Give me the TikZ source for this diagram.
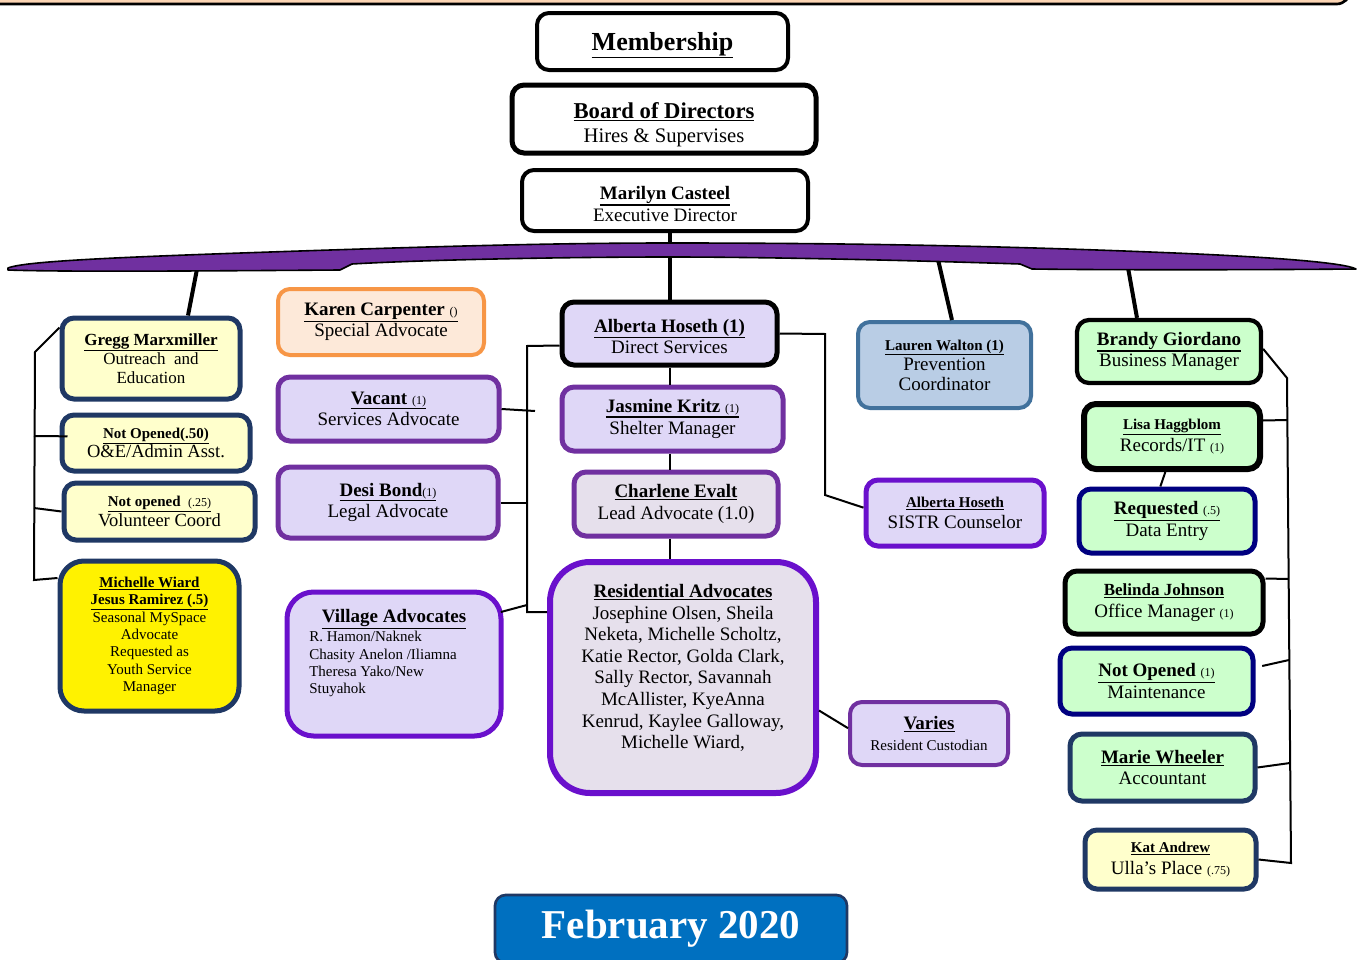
\documentclass[tikz,border=0pt]{standalone}
\usepackage{fontspec}
\setmainfont{Liberation Serif}
\definecolor{lav}{HTML}{DFD7F7}
\definecolor{lavg}{HTML}{E6E0EC}
\definecolor{purp}{HTML}{7030A0}
\definecolor{viol}{HTML}{6A10CC}
\definecolor{navy}{HTML}{1F3864}
\definecolor{navyb}{HTML}{000080}
\definecolor{lyel}{HTML}{FFFFCC}
\definecolor{orng}{HTML}{F79646}
\definecolor{peach}{HTML}{FDE9D9}
\definecolor{banner}{HTML}{FCD5B4}
\definecolor{lblue}{HTML}{B9CDE5}
\definecolor{steel}{HTML}{41719C}
\definecolor{lgrn}{HTML}{CCFFCC}
\definecolor{febblue}{HTML}{0070C0}
\newcommand\fA{\fontsize{14.25pt}{16pt}\selectfont}
\newcommand\fB{\fontsize{11.25pt}{13pt}\selectfont}
\newcommand\fC{\fontsize{9pt}{10pt}\selectfont}
\newcommand\ulx[1]{\leavevmode\begingroup\setbox0=\hbox{#1}\dimen0=\dp0\advance\dimen0 by 1.6pt\rlap{\rule[-\dimen0]{\wd0}{0.9pt}}\box0\endgroup}
\newcommand\bx[7][]{\node[bxs,#1,minimum width={(#5-#3-4)*0.75},minimum height={(#6-#4-4)*0.75}] (#2) at ({(#3+#5)/2},{(#4+#6)/2}) {#7};}
\begin{document}
\begin{tikzpicture}[x=0.75pt,y=-0.75pt,
  bxs/.style={draw, rounded corners=9pt, align=center, inner sep=0pt, font=\fA, line width=3.75pt, text=black},
  con/.style={line width=1.5pt},
  conb/.style={line width=3pt},
  leftbox/.style={draw=navy, fill=lyel},
  purbox/.style={draw=purp, fill=lav},
  grnbox/.style={fill=lgrn}]
\useasboundingbox (0,0) rectangle (1361,960);
\begin{scope}
\clip (0,0) rectangle (1361,960);
% top banner
\draw[fill=banner, line width=2pt, rounded corners=10pt] (-30,-60) rectangle (1350,4);

% band anchor coordinates
\coordinate (bG) at (198,264);
\coordinate (bL) at (937,255);
\coordinate (bB) at (1127,262);

% ---------- boxes ----------
\bx[line width=3pt]{memb}{535}{11}{790}{72}{\fontsize{19.5pt}{22pt}\selectfont\rule{0pt}{19pt}\ulx{\textbf{Membership}}}
\bx[font=\fontsize{15.5pt}{18pt}\selectfont]{board}{510}{83}{818}{155}{{\fontsize{17pt}{18pt}\selectfont\rule{0pt}{21pt}\ulx{\textbf{Board of Directors}}}\\Hires \& Supervises}
\bx[line width=3pt,font=\fontsize{14.25pt}{16.5pt}\selectfont]{marilyn}{520}{168}{810}{233}{\rule{0pt}{15pt}\ulx{\textbf{Marilyn Casteel}}\\Executive Director}

% left column
\bx[leftbox,font=\fontsize{12.75pt}{14.25pt}\selectfont]{gregg}{60}{316}{242}{401}{\ulx{\textbf{Gregg Marxmiller}}\\Outreach\ \ and\\Education}
\bx[leftbox,font=\fontsize{13.9pt}{14.5pt}\selectfont]{noa}{60}{413}{252}{473}{{\fB\ulx{\textbf{Not Opened(.50)}}}\\O\&E/Admin Asst.}
\bx[leftbox,font=\fontsize{13.9pt}{14.5pt}\selectfont]{noc}{62}{481}{257}{542}{{\fB\ulx{\textbf{Not opened}\ \ {\fC(.25)}}}\\Volunteer Coord}
\bx[draw=navy,fill=yellow,rounded corners=18pt,font=\fB]{mich}{58}{559}{241}{713}{\ulx{\textbf{Michelle Wiard}}\\\ulx{\textbf{Jesus Ramirez (.5)}}\\Seasonal MySpace\\Advocate\\Requested as\\Youth Service\\Manager}

% middle-left column
\bx[draw=orng,fill=peach,line width=3pt]{karen}{276}{287}{486}{357}{\ulx{\textbf{Karen Carpenter} {\fC()}}\\Special Advocate}
\bx[purbox]{vacant}{276}{375}{501}{443}{\ulx{\textbf{Vacant} {\fC(1)}}\\Services Advocate}
\bx[purbox]{desi}{276}{465}{500}{540}{\ulx{\textbf{Desi Bond}{\fC(1)}}\\Legal Advocate}
\bx[draw=viol,fill=lav,rounded corners=20pt]{village}{285}{590}{503}{738}{}
\node[font=\fA, inner sep=0pt] (villh) at (394,619) {\ulx{\textbf{Village Advocates}}};
\node[font=\fB, align=left, anchor=north west, inner sep=0pt] (villn) at (309,631) {R. Hamon/Naknek\\Chasity Anelon /Iliamna\\Theresa Yako/New\\Stuyahok};

% center column
\bx[draw=black,fill=lav]{alberta}{560}{300}{779}{367}{\rule{0pt}{14pt}\ulx{\textbf{Alberta Hoseth (1)}}\\Direct Services}
\bx[purbox]{jasmine}{560}{385}{785}{453}{\ulx{\textbf{Jasmine Kritz} {\fC(1)}}\\Shelter Manager}
\bx[draw=purp,fill=lavg]{charlene}{572}{470}{780}{538}{\ulx{\textbf{Charlene Evalt}}\\Lead Advocate (1.0)}
\bx[draw=viol,fill=lavg,rounded corners=30pt,line width=4.5pt]{resid}{548}{560}{818}{795}{}
\node[align=center, inner sep=0pt, font=\fontsize{14.25pt}{16.2pt}\selectfont] (residtxt) at (683,668) {\ulx{\textbf{Residential Advocates}}\\Josephine Olsen, Sheila\\Neketa, Michelle Scholtz,\\Katie Rector, Golda Clark,\\Sally Rector, Savannah\\McAllister, KyeAnna\\Kenrud, Kaylee Galloway,\\Michelle Wiard,};

% center-right
\bx[draw=steel,fill=lblue,line width=3pt,font=\fontsize{14.25pt}{15pt}\selectfont]{lauren}{856}{320}{1033}{410}{{\fB\ulx{\textbf{Lauren Walton (1)}}}\\Prevention\\Coordinator}
\bx[draw=viol,fill=lav]{sistr}{864}{478}{1046}{548}{{\fB\ulx{\textbf{Alberta Hoseth}}}\\SISTR Counselor}
\bx[purbox,line width=3pt]{varies}{848}{700}{1010}{767}{\ulx{\textbf{Varies}}\\{\fB Resident Custodian}}

% right column
\bx[grnbox,draw=black,line width=3.2pt]{brandy}{1075}{318}{1263}{385}{\ulx{\textbf{Brandy Giordano}}\\Business Manager}
\bx[grnbox,draw=black,line width=4.5pt]{lisa}{1082}{402}{1262}{471}{{\fB\ulx{\textbf{Lisa Haggblom}}}\\Records/IT {\fC(1)}}
\bx[grnbox,draw=navyb]{requested}{1077}{487}{1257}{555}{\ulx{\textbf{Requested} {\fC(.5)}}\\Data Entry}
\bx[grnbox,draw=black]{belinda}{1063}{569}{1265}{636}{{\fontsize{12.75pt}{14pt}\selectfont\ulx{\textbf{Belinda Johnson}}}\\Office Manager {\fC(1)}}
\bx[grnbox,draw=navyb]{notopen}{1058}{646}{1255}{716}{\ulx{\textbf{Not Opened} {\fC(1)}}\\Maintenance}
\bx[grnbox,draw=navy]{marie}{1068}{732}{1257}{803}{\ulx{\textbf{Marie Wheeler}}\\Accountant}
\bx[draw=navy,fill=lyel]{kat}{1083}{828}{1258}{891}{{\fB\ulx{\textbf{Kat Andrew}}}\\Ulla’s Place {\fC(.75)}}

% February
\bx[draw=navy,fill=febblue,line width=2pt,rounded corners=8pt,text=white,font=\fontsize{30.75pt}{32pt}\selectfont]{feb}{493}{893}{849}{965}{\textbf{February 2020}}

% ---------- connectors ----------
\draw[conb] (alberta.north |- marilyn.south) -- (alberta.north);
\draw[conb] (bG) -- ([xshift=27.75pt]gregg.north);
\draw[conb] (bL) -- ([xshift=5.6pt]lauren.north);
\draw[conb] (bB) -- ([xshift=-24pt]brandy.north);

% left bracket
\coordinate (lbT) at (35,352);
\coordinate (lbB) at (34,580);
\coordinate (lbA) at (34,436);
\coordinate (lbC) at (34,508);
\draw[con] ([yshift=-9pt]gregg.north west) -- (lbT) -- (lbB) -- ([yshift=43.5pt]mich.west);
\draw[con] (lbA) -- ([yshift=5pt,xshift=6pt]noa.west);
\draw[con] (lbC) -- (noc.west);

% middle bracket
\coordinate (mbT) at (527,346);
\coordinate (mbB) at (527,612);
\coordinate (mbV) at (527,605);
\coordinate (mbVac) at (535,411);
\draw[con] ([yshift=-9pt]alberta.west) -- (mbT) -- (mbB) -- (mbB -| resid.west);
\draw[con] (vacant.east) -- (mbVac);
\draw[con] (desi.east) -- (desi.east -| mbT);
\draw[con] ([yshift=39pt,xshift=-2pt]village.east) -- (mbV);

% center chain
\draw[con] (alberta.south) -- (alberta.south |- jasmine.north);
\draw[con] (alberta.south |- jasmine.south) -- (alberta.south |- charlene.north);
\draw[con] (alberta.south |- charlene.south) -- (alberta.south |- resid.north);

% alberta to SISTR
\coordinate (rb1) at (825,334);
\coordinate (rb2) at (825,495);
\draw[con] (alberta.east) -- (rb1) -- (rb2) -- ([yshift=4pt]sistr.west);
\draw[con] ([yshift=-24.75pt]resid.east) -- ([yshift=4pt]varies.west);

% right bracket
\coordinate (rrT) at (1287,378);
\coordinate (rrB) at (1291,863);
\coordinate (rrL) at (1287,420);
\coordinate (rrBe) at (1288,579);
\coordinate (rrN) at (1289,660);
\coordinate (rrM) at (1290,763);
\draw[con] ([yshift=2pt]brandy.east) -- (rrT) -- (rrB) -- (kat.east);
\draw[con] ([yshift=12pt]lisa.east) -- (rrL);
\draw[con] ([yshift=18pt]belinda.east) -- (rrBe);
\draw[con] ([yshift=11.25pt,xshift=5pt]notopen.east) -- (rrN);
\draw[con] (marie.east) -- (rrM);
\draw[con] ([xshift=-5pt]lisa.south) -- ([xshift=-5pt]requested.north);

% purple band
\draw[fill=purp, line width=1.2pt, line join=round]
  (8,268) .. controls (25,261) and (120,257) .. (300,251)
  .. controls (450,246) and (560,243) .. (670,243)
  .. controls (850,243) and (1000,246) .. (1150,252)
  .. controls (1280,257) and (1345,263) .. (1356,269)
  .. controls (1250,270) and (1100,270) .. (1032,269) -- (1020,264)
  .. controls (900,260) and (760,257) .. (670,257)
  .. controls (560,257) and (420,260) .. (352,264) -- (340,270)
  .. controls (200,271) and (60,272) .. (8,270) -- cycle;
\end{scope}
\end{tikzpicture}
\end{document}
